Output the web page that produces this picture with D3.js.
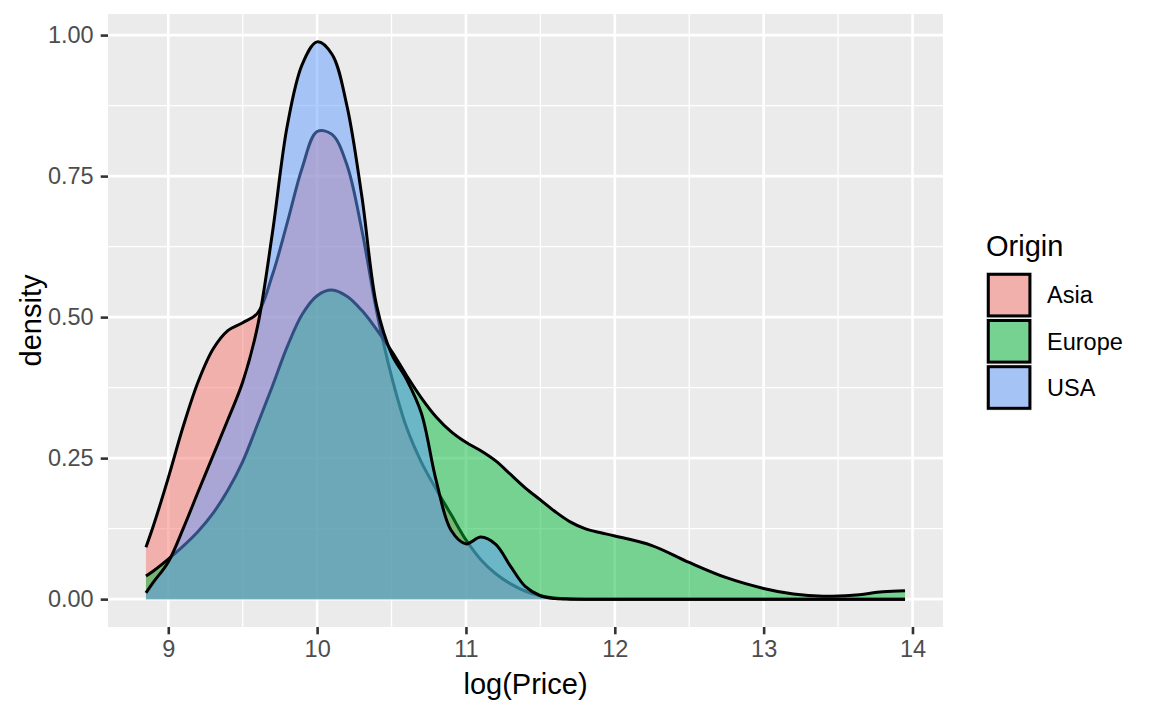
<!DOCTYPE html>
<html>
<head>
<meta charset="utf-8">
<script src="https://cdn.jsdelivr.net/npm/d3@7"></script>
<style>
  body { margin: 0; background: #ffffff; }
  text { font-family: "Liberation Sans", Arial, Helvetica, sans-serif; }
</style>
</head>
<body>
<div id="chart"></div>
<script>
// density estimates, on a shared log(Price) grid
var logPrice = [8.85, 8.9, 9.0, 9.1, 9.2, 9.3, 9.4, 9.5, 9.6, 9.7, 9.8, 9.9,
    10.0, 10.1, 10.2, 10.3, 10.4, 10.5, 10.6, 10.7, 10.8, 10.9,
    11.0, 11.1, 11.2, 11.3, 11.4, 11.5, 11.6, 11.7, 11.8, 11.9,
    12.0, 12.25, 12.5, 12.75, 13.0, 13.2, 13.4, 13.6, 13.8, 13.95];

var asia = [0.092, 0.13, 0.215, 0.306, 0.385, 0.443, 0.476, 0.49, 0.507, 0.575, 0.668, 0.765,
    0.829, 0.824, 0.77, 0.655, 0.51, 0.395, 0.305, 0.243, 0.195, 0.15,
    0.105, 0.07, 0.045, 0.027, 0.014, 0.006, 0.002, 0.0005, 0, 0,
    0, 0, 0, 0, 0, 0, 0, 0, 0, 0];

var europe = [0.041, 0.05, 0.071, 0.094, 0.12, 0.152, 0.193, 0.244, 0.31, 0.378, 0.448, 0.505,
    0.538, 0.548, 0.537, 0.512, 0.478, 0.44, 0.397, 0.357, 0.323, 0.297,
    0.278, 0.263, 0.245, 0.221, 0.197, 0.176, 0.155, 0.137, 0.125, 0.118,
    0.112, 0.095, 0.065, 0.038, 0.019, 0.009, 0.005, 0.007, 0.013, 0.015];

var usa = [0.011, 0.03, 0.066, 0.125, 0.19, 0.254, 0.318, 0.385, 0.484, 0.65, 0.84, 0.948,
    0.988, 0.966, 0.875, 0.715, 0.52, 0.435, 0.39, 0.33, 0.21, 0.122,
    0.098, 0.11, 0.097, 0.058, 0.022, 0.006, 0.001, 0, 0, 0,
    0, 0, 0, 0, 0, 0, 0, 0, 0, 0];

var origins = ["Asia", "Europe", "USA"];
var originColors = ["#F8766D", "#00BA38", "#619CFF"];
var xTicks = [9, 10, 11, 12, 13, 14];
var yTicks = [0, 0.25, 0.5, 0.75, 1];

var svgWidth = 1152;
var svgHeight = 711;

var panel = { left: 108, right: 943, top: 14, bottom: 627 };

var svg = d3.select("#chart")
    .append("svg")
    .attr("width", svgWidth)
    .attr("height", svgHeight);

svg.append("rect")
    .attr("width", svgWidth)
    .attr("height", svgHeight)
    .attr("fill", "#ffffff");

var series = [asia, europe, usa].map(function (vals, i) {
    return {
        origin: origins[i],
        color: originColors[i],
        values: logPrice.map(function (x, j) { return { x: x, y: vals[j] }; })
    };
});

// ggplot style 5% expansion
var xMin = d3.min(logPrice), xMax = d3.max(logPrice);
var xPad = (xMax - xMin) * 0.05;
var yMax = d3.max([asia, europe, usa], function (s) { return d3.max(s); });
var yPad = yMax * 0.05;

var xScale = d3.scaleLinear()
    .domain([xMin - xPad, xMax + xPad])
    .range([panel.left, panel.right]);

var yScale = d3.scaleLinear()
    .domain([-yPad, yMax + yPad])
    .range([panel.bottom, panel.top]);

svg.append("rect")
    .attr("x", panel.left)
    .attr("y", panel.top)
    .attr("width", panel.right - panel.left)
    .attr("height", panel.bottom - panel.top)
    .attr("fill", "#EBEBEB");

var grid = svg.append("g");

var xMinor = [9.5, 10.5, 11.5, 12.5, 13.5];
var yMinor = [0.125, 0.375, 0.625, 0.875];

grid.selectAll(".xminor").data(xMinor).enter().append("line")
    .attr("x1", d => xScale(d)).attr("x2", d => xScale(d))
    .attr("y1", panel.top).attr("y2", panel.bottom)
    .attr("stroke", "#ffffff").attr("stroke-width", 1.3);

grid.selectAll(".yminor").data(yMinor).enter().append("line")
    .attr("x1", panel.left).attr("x2", panel.right)
    .attr("y1", d => yScale(d)).attr("y2", d => yScale(d))
    .attr("stroke", "#ffffff").attr("stroke-width", 1.3);

grid.selectAll(".xmajor").data(xTicks).enter().append("line")
    .attr("x1", d => xScale(d)).attr("x2", d => xScale(d))
    .attr("y1", panel.top).attr("y2", panel.bottom)
    .attr("stroke", "#ffffff").attr("stroke-width", 2.6);

grid.selectAll(".ymajor").data(yTicks).enter().append("line")
    .attr("x1", panel.left).attr("x2", panel.right)
    .attr("y1", d => yScale(d)).attr("y2", d => yScale(d))
    .attr("stroke", "#ffffff").attr("stroke-width", 2.6);

var area = d3.area()
    .x(d => xScale(d.x))
    .y0(yScale(0))
    .y1(d => yScale(d.y))
    .curve(d3.curveCatmullRom.alpha(0.5));

var line = d3.line()
    .x(d => xScale(d.x))
    .y(d => yScale(d.y))
    .curve(d3.curveCatmullRom.alpha(0.5));

var groups = svg.append("g");

series.forEach(function (s) {
    groups.append("path")
        .attr("d", area(s.values))
        .attr("fill", s.color)
        .attr("fill-opacity", 0.5);
    groups.append("path")
        .attr("d", line(s.values))
        .attr("fill", "none")
        .attr("stroke", "#000000")
        .attr("stroke-width", 3)
        .attr("stroke-linejoin", "round");
});

var bottomAxis = d3.axisBottom(xScale)
    .tickValues(xTicks)
    .tickSize(7.3)
    .tickPadding(6)
    .tickFormat(d3.format("d"));

var leftAxis = d3.axisLeft(yScale)
    .tickValues(yTicks)
    .tickSize(7.3)
    .tickPadding(7)
    .tickFormat(d3.format(".2f"));

var xAxisG = svg.append("g")
    .attr("transform", `translate(0, ${panel.bottom})`)
    .call(bottomAxis);

var yAxisG = svg.append("g")
    .attr("transform", `translate(${panel.left}, 0)`)
    .call(leftAxis);

[xAxisG, yAxisG].forEach(function (g) {
    g.select(".domain").remove();
    g.selectAll(".tick line").attr("stroke", "#333333").attr("stroke-width", 2.6);
    g.selectAll(".tick text")
        .attr("fill", "#4D4D4D")
        .attr("font-size", "23.5px")
        .attr("font-family", "'Liberation Sans', Arial, sans-serif");
});

svg.append("text")
    .attr("x", (panel.left + panel.right) / 2)
    .attr("y", 694)
    .attr("text-anchor", "middle")
    .attr("font-size", "29px")
    .attr("fill", "#000000")
    .text("log(Price)");

svg.append("text")
    .attr("transform", `translate(41, ${(panel.top + panel.bottom) / 2}) rotate(-90)`)
    .attr("text-anchor", "middle")
    .attr("font-size", "29px")
    .attr("fill", "#000000")
    .text("density");

// legend
var legend = svg.append("g")
    .attr("transform", "translate(986, 272)");

legend.append("text")
    .attr("x", 0)
    .attr("y", -16)
    .attr("font-size", "29px")
    .attr("fill", "#000000")
    .text("Origin");

var keySize = 46.2;

var keys = legend.selectAll(".key")
    .data(series)
    .enter()
    .append("g")
    .attr("transform", (d, i) => `translate(0, ${i * keySize})`);

keys.append("rect")
    .attr("width", keySize)
    .attr("height", keySize)
    .attr("fill", "#EBEBEB");

keys.append("rect")
    .attr("x", 2.3)
    .attr("y", 2.3)
    .attr("width", keySize - 4.6)
    .attr("height", keySize - 4.6)
    .attr("fill", d => d.color)
    .attr("fill-opacity", 0.5)
    .attr("stroke", "#000000")
    .attr("stroke-width", 3);

keys.append("text")
    .attr("x", 61)
    .attr("y", keySize / 2)
    .attr("dy", "0.35em")
    .attr("font-size", "23.5px")
    .attr("fill", "#000000")
    .text(d => d.origin);
</script>
</body>
</html>
